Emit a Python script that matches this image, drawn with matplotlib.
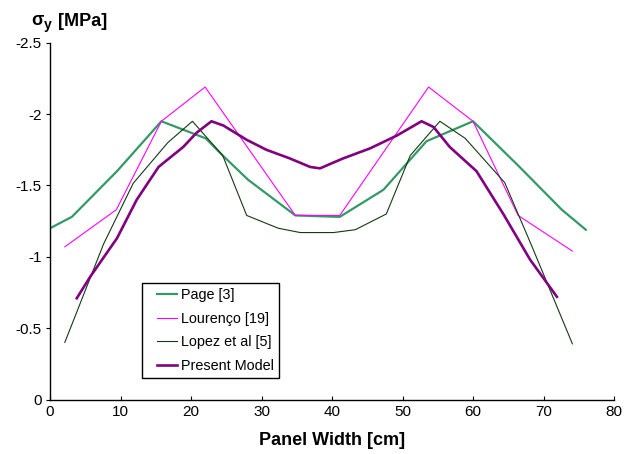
import matplotlib.pyplot as plt
import numpy as np
from matplotlib.lines import Line2D
from matplotlib.legend_handler import HandlerLine2D

plt.rcParams['font.family'] = ['Liberation Sans', 'DejaVu Sans']

# Page [3]
page_x = [0, 3.1, 9.5, 15.8, 22.1, 24.5, 28.1, 34.8, 41.1, 47.3, 53.4, 60.0, 66.4, 72.6, 76.0]
page_y = [-1.20, -1.28, -1.60, -1.95, -1.83, -1.71, -1.54, -1.29, -1.28, -1.47, -1.81, -1.95, -1.64, -1.33, -1.19]

# Lourenço [19]
lour_x = [2.1, 9.4, 15.8, 22.0, 34.8, 41.1, 53.7, 60.0, 66.4, 74.1]
lour_y = [-1.07, -1.33, -1.95, -2.19, -1.29, -1.29, -2.19, -1.95, -1.29, -1.04]

# Lopez et al [5]
lopez_x = [2.1, 7.6, 11.8, 16.7, 20.2, 24.5, 27.9, 32.4, 35.5, 40.2, 43.3, 47.7, 51.1, 55.3, 58.9, 64.5, 68.3, 74.1]
lopez_y = [-0.40, -1.09, -1.515, -1.80, -1.95, -1.71, -1.29, -1.20, -1.17, -1.17, -1.19, -1.30, -1.71, -1.95, -1.83, -1.52, -1.08, -0.39]

# Present Model
model_x = [3.8, 5.7, 9.5, 12.3, 15.4, 18.9, 20.8, 22.9, 24.6, 27.9, 30.7, 34.0, 36.9, 38.3, 39.7,
           41.6, 45.4, 49.2, 52.7, 54.4, 56.7, 60.5, 64.3, 68.1, 71.9]
model_y = [-0.71, -0.86, -1.13, -1.40, -1.63, -1.77, -1.87, -1.95, -1.92, -1.82, -1.75, -1.69, -1.63, -1.62, -1.65,
           -1.69, -1.76, -1.85, -1.95, -1.91, -1.77, -1.60, -1.30, -0.98, -0.72]


class ShortLine(HandlerLine2D):
    # legend line sits at the right part of the handle box, like the excel legend
    def get_xdata(self, legend, xdescent, ydescent, width, height, fontsize):
        x0 = -xdescent + width * 0.34
        x1 = -xdescent + width
        return np.array([x0, x1]), np.array([x0, x1])


fig = plt.figure(figsize=(6.4, 4.54), dpi=100)
ax = fig.add_axes([50 / 640, 54.5 / 454, 564 / 640, 356.7 / 454])

ax.plot(page_x, page_y, color='#339966', lw=1.6, label='Page [3]')
ax.plot(lour_x, lour_y, color='#ff00ff', lw=0.8, label='Lourenço [19]')
ax.plot(lopez_x, lopez_y, color='#123a12', lw=0.8, label='Lopez et al [5]')
ax.plot(model_x, model_y, color='#800080', lw=1.9, label='Present Model', solid_joinstyle='round')

ax.set_xlim(0, 80)
ax.set_ylim(0, -2.5)
ax.set_xticks(np.arange(0, 81, 10))
ax.set_yticks([0, -0.5, -1, -1.5, -2, -2.5])
ax.set_yticklabels(['0', '-0.5', '-1', '-1.5', '-2', '-2.5'])

for s in ['top', 'right']:
    ax.spines[s].set_visible(False)
for s in ['left', 'bottom']:
    ax.spines[s].set_linewidth(1.0)

ax.tick_params(axis='x', direction='in', length=3, labelsize=11, pad=4)
ax.tick_params(axis='y', direction='out', length=3, labelsize=11, pad=3)

ax.set_xlabel('Panel Width [cm]', fontsize=13, fontweight='bold', labelpad=9)

# y axis title, top left
fig.text(31 / 640, 1 - 25 / 454, 'σ', fontsize=13, fontweight='bold', va='baseline')
fig.text(44 / 640, 1 - 29 / 454, 'y', fontsize=10, fontweight='bold', va='baseline')
fig.text(58 / 640, 1 - 26 / 454, '[MPa]', fontsize=13, fontweight='bold', va='baseline')

leg = ax.legend(loc='lower left', bbox_to_anchor=(0.1626, 0.0594), borderaxespad=0,
                fontsize=10.4, fancybox=False, framealpha=1, edgecolor='black',
                handlelength=2.1, handletextpad=0.3, labelspacing=0.68, borderpad=0.35,
                handler_map={Line2D: ShortLine()})
leg.get_frame().set_linewidth(1.0)

fig.savefig('out.png', dpi=100)
